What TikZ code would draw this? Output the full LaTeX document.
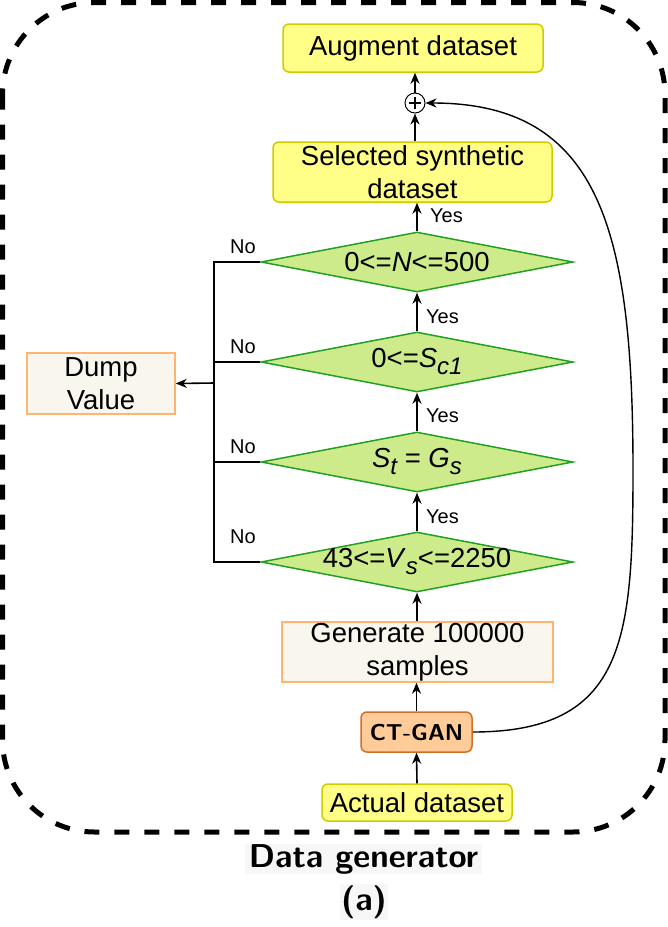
\documentclass[tikz,border=0pt]{standalone}
\usepackage{fontspec}
\setmainfont{Liberation Sans}
\usetikzlibrary{shapes.geometric,arrows.meta}
\definecolor{yfill}{HTML}{FFFF88}
\definecolor{ydraw}{HTML}{CCCC00}
\definecolor{gfill}{HTML}{CDEB8B}
\definecolor{gdraw}{HTML}{23A023}
\definecolor{cfill}{HTML}{F9F7ED}
\definecolor{cdraw}{HTML}{FFB570}
\definecolor{ofill}{HTML}{FFCC99}
\definecolor{odraw}{HTML}{D07028}
\definecolor{capbg}{HTML}{F7F7F7}
\newcommand{\sbs}[1]{\raisebox{-7pt}{\fontsize{24}{24}\selectfont\itshape #1}}
\tikzset{
  txt/.style={font=\fontsize{27.5}{33}\selectfont, align=center, text=black},
  ybox/.style={txt, draw=ydraw, fill=yfill, line width=1.5pt, rounded corners=6pt, inner sep=0pt},
  cbox/.style={txt, draw=cdraw, fill=cfill, line width=1.5pt, inner sep=0pt},
  obox/.style={draw=odraw, fill=ofill, line width=1.5pt, rounded corners=6pt, inner sep=0pt,
    font=\sffamily\bfseries\fontsize{23}{26}\selectfont},
  dia/.style={diamond, draw=gdraw, fill=gfill, line width=1.5pt, minimum width=312pt,
    minimum height=60pt, inner sep=0pt, aspect=5.2},
  arr/.style={-{Stealth[length=11pt,width=9pt,inset=3.5pt]}, line width=1.6pt},
  ln/.style={line width=1.6pt},
  lbl/.style={font=\fontsize{20}{22}\selectfont, anchor=west, inner sep=0pt},
  capt/.style={font=\sffamily\bfseries\fontsize{33}{36}\selectfont, fill=capbg, inner sep=0pt}
}
\begin{document}
\begin{tikzpicture}[x=1pt,y=-1pt]
\useasboundingbox (0,0) rectangle (668,927);
% outer dashed frame
\draw[line width=5pt, dash pattern=on 15pt off 15pt, rounded corners=92pt] (2.5,2.5) rectangle (665,832);

% boxes
\node[ybox, minimum width=260pt, minimum height=48pt] (aug) at (413,48) {Augment dataset};
\node[circle, draw, line width=1pt, minimum size=20pt, inner sep=0pt, fill=white] (plus) at (415,103) {};
\draw[line width=2.2pt] ([xshift=-6pt]plus.center) -- ([xshift=6pt]plus.center)
  ([yshift=-6pt]plus.center) -- ([yshift=6pt]plus.center);
\node[ybox, minimum width=279pt, minimum height=60pt] (sel) at (412.5,172) {Selected synthetic\\dataset};

\node[dia] (d1) at (417,262) {};
\node[txt] (t1) at (d1) {0<=\textit{N}<=500};
\node[dia] (d2) at (417,362) {};
\node[txt] (t2) at (d2) {0<=\textit{S}\sbs{c1}};
\node[dia] (d3) at (417,462) {};
\node[txt] (t3) at (d3) {\textit{S}\sbs{t} = \textit{G}\sbs{s}};
\node[dia] (d4) at (417,562) {};
\node[txt] (t4) at (d4) {43<=\textit{V}\sbs{s}<=2250};

\node[cbox, minimum width=148pt, minimum height=61pt] (dump) at (101,383.5) {Dump\\Value};
\node[cbox, minimum width=271pt, minimum height=60pt] (gen) at (417.5,652) {Generate 100000\\samples};
\node[obox, minimum width=111pt, minimum height=40pt] (ct) at (416.5,732) {CT-GAN};
\node[ybox, minimum width=190pt, minimum height=37pt] (act) at (417,802.5) {Actual dataset};

% vertical flow
\draw[arr] (act.north) -- (ct.south);
\draw[arr] (ct.north) -- (ct.north |- gen.south);
\draw[arr] (d4.south |- gen.north) -- (d4.south);
\draw[arr] (d4.north) -- (d3.south);
\draw[arr] (d3.north) -- (d2.south);
\draw[arr] (d2.north) -- (d1.south);
\draw[arr] (d1.north) -- (d1.north |- sel.south);
\draw[arr] (plus.south |- sel.north) -- (plus.south);
\draw[arr] (plus.north) -- (plus.north |- aug.south);

% Yes labels
\node[lbl] (y1) at (430,216) {Yes};
\node[lbl] (y2) at (426,317) {Yes};
\node[lbl] (y3) at (426,416) {Yes};
\node[lbl] (y4) at (426,517) {Yes};

% No branches
\coordinate (j1) at (214,262);
\coordinate (j2) at (214,362);
\coordinate (j3) at (214,462);
\coordinate (j4) at (214,562);
\coordinate (jm) at (214,383);
\draw[ln] (d1.west) -- (j1) -- (j4) -- (d4.west);
\draw[ln] (d2.west) -- (j2);
\draw[ln] (d3.west) -- (j3);
\draw[arr] (jm) -- (dump.east);
\node[lbl] (n1) at (230,247) {No};
\node[lbl] (n2) at (230,347) {No};
\node[lbl] (n3) at (230,447) {No};
\node[lbl] (n4) at (230,537) {No};

% feedback curve
\coordinate (cm) at (633,470);
\draw[arr, line width=1.4pt] (ct.east) .. controls (625,732) and (633,640) .. (cm)
  .. controls (633,230) and (600,103) .. (plus.east);

% caption
\node[capt, minimum width=237pt, minimum height=28pt] (cap1) at (363.5,859) {Data generator};
\node[capt, minimum width=48pt, minimum height=36pt] (cap2) at (364,902) {(a)};
\end{tikzpicture}
\end{document}
